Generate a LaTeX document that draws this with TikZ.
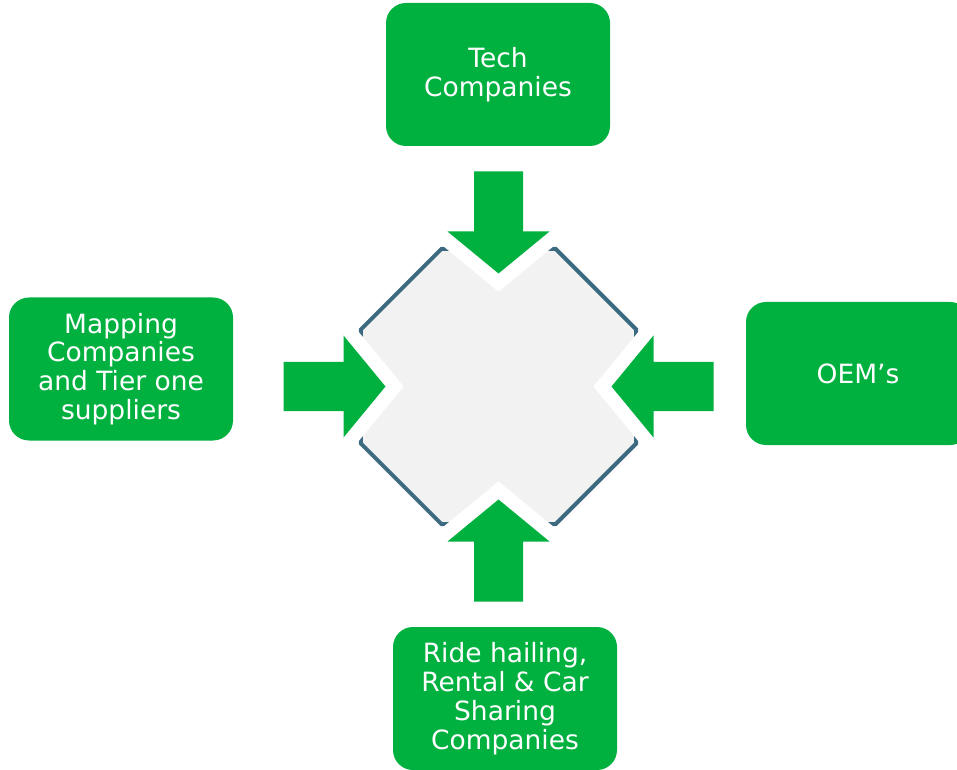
\documentclass[tikz,border=0pt]{standalone}
\usepackage{fontspec}
\setmainfont{DejaVu Sans}
\usetikzlibrary{shapes.geometric,calc}
\definecolor{boxgreen}{RGB}{0,177,64}
\definecolor{hubedge}{RGB}{60,106,128}
\definecolor{hubfill}{RGB}{242,242,242}
\newcommand{\Feed}[2]{%
  \begin{scope}[shift={(#1)},rotate=#2]
    \path[fill=boxgreen,preaction={draw=white,line width=28pt,line join=miter}]
      (0,0) -- (-42,51) -- (-42,24.5) -- (-102,24.5) -- (-102,-24.5) -- (-42,-24.5) -- (-42,-51) -- cycle;
  \end{scope}}

\begin{document}
\begin{tikzpicture}[x=1pt,y=1pt]

\tikzset{party/.style = {fill=boxgreen, rounded corners=20pt, minimum width=224pt, minimum height=143pt,
  inner sep=0pt, text=white, align=center, font=\fontsize{26.5}{28.8}\selectfont}}
\tikzset{hub/.style = {regular polygon, regular polygon sides=8, minimum size=298pt, inner sep=0pt,
  draw=hubedge, fill=hubfill, line width=4pt}}

\useasboundingbox (0,0) rectangle (957,769);
\clip (0,0) rectangle (957,769);

\node[hub] (hub) at (498.5,382.5) {};

\Feed{$(hub.center)+(0,113)$}{-90}
\Feed{$(hub.center)+(-113,0)$}{0}
\Feed{$(hub.center)+(113,0)$}{180}
\Feed{$(hub.center)+(0,-113)$}{90}

\node[party] (tech) at (498,694.5) {Tech\\Companies};
\node[party] (mapping) at (121,400) {Mapping\\Companies\\and Tier one\\suppliers};
\node[party] (oem) at (858,395.5) {OEM’s};
\node[party] (ride) at (505,70.5) {Ride hailing,\\Rental \& Car\\Sharing\\Companies};

\end{tikzpicture}
\end{document}
